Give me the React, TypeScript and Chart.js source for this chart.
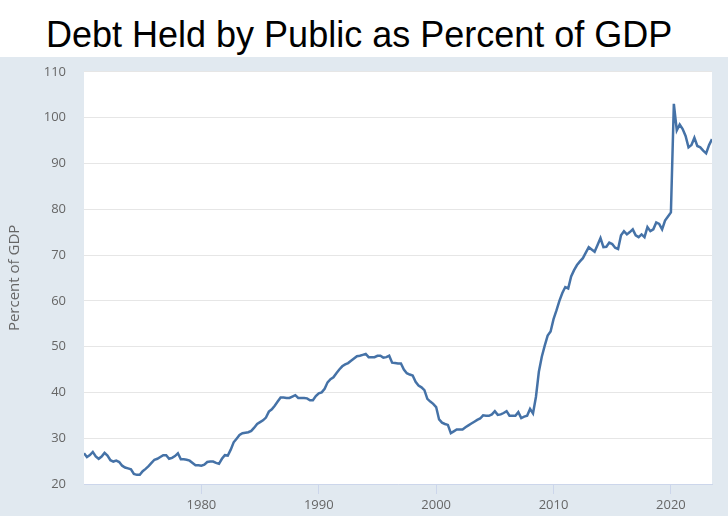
import React, { useEffect, useRef } from "react";
import { Chart, registerables } from "chart.js";

Chart.register(...registerables);

const titleText = "Debt Held by Public as Percent of GDP";
const yAxisTitle = "Percent of GDP";
const startYear = 1970;
const xMin = 1970;
const xMax = 2023.5;
const xTickYears = [1980, 1990, 2000, 2010, 2020];
const yTicks = [20, 30, 40, 50, 60, 70, 80, 90, 100, 110];

// Quarterly values, Q1 1970 onward
const debt1970s = [
  26.7, 25.9, 26.3, 27.0, 26.0, 25.5, 26.0, 26.8, 26.2, 25.2, 24.9, 25.1,
  24.8, 24.0, 23.6, 23.4, 23.2, 22.2, 22.0, 22.0, 22.8, 23.3, 23.9, 24.6,
  25.3, 25.5, 25.9, 26.3, 26.3, 25.5, 25.7, 26.1, 26.7, 25.4, 25.4, 25.3,
  25.1, 24.6, 24.1, 24.1,
];
const debt1980s = [
  24.0, 24.2, 24.8, 24.9, 24.9, 24.6, 24.4, 25.5, 26.3, 26.2, 27.5, 29.1,
  29.9, 30.7, 31.1, 31.2, 31.3, 31.6, 32.3, 33.1, 33.5, 33.9, 34.5, 35.8,
  36.3, 37.1, 38.0, 38.9, 38.9, 38.8, 38.8, 39.1, 39.4, 38.8, 38.8, 38.8,
  38.7, 38.3, 38.3, 39.2,
];
const debt1990s = [
  39.8, 40.0, 40.8, 42.2, 42.9, 43.3, 44.2, 45.0, 45.7, 46.1, 46.4, 46.9,
  47.4, 47.9, 48.0, 48.2, 48.4, 47.7, 47.7, 47.7, 48.0, 48.0, 47.6, 47.7,
  48.0, 46.5, 46.4, 46.3, 46.3, 45.0, 44.2, 43.9, 43.7, 42.3, 41.5, 41.1,
  40.5, 38.6, 38.0, 37.5,
];
const debt2000s = [
  36.8, 34.1, 33.4, 33.1, 32.9, 31.1, 31.5, 31.9, 31.9, 31.9, 32.4, 32.8,
  33.2, 33.6, 34.0, 34.3, 35.0, 34.9, 34.9, 35.2, 35.9, 35.1, 35.2, 35.5,
  35.9, 34.9, 34.9, 34.9, 35.7, 34.4, 34.7, 34.9, 36.4, 35.4, 39.0, 44.5,
  47.8, 50.2, 52.4, 53.3,
];
const debt2010s = [
  56.0, 57.9, 60.0, 61.7, 63.0, 62.7, 65.3, 66.7, 67.8, 68.6, 69.3, 70.5,
  71.7, 71.2, 70.7, 72.2, 73.7, 71.7, 71.8, 72.7, 72.4, 71.6, 71.3, 74.3,
  75.2, 74.5, 75.0, 75.6, 74.3, 73.9, 74.5, 73.9, 76.1, 75.2, 75.6, 77.1,
  76.8, 75.6, 77.5, 78.4,
];
const debt2020s = [
  79.3, 103.0, 97.2, 98.5, 97.5, 96.0, 93.5, 94.0, 95.6, 93.8, 93.5, 92.8,
  92.2, 94.0, 95.3,
];

const plotBg = {
  id: "plotBg",
  beforeDraw(chart: any) {
    const { ctx, chartArea } = chart;
    ctx.save();
    ctx.fillStyle = "#ffffff";
    ctx.fillRect(chartArea.left, chartArea.top, chartArea.right - chartArea.left, chartArea.bottom - chartArea.top);
    ctx.restore();
  },
};

export default function App() {
  const ref = useRef<HTMLCanvasElement>(null);
  useEffect(() => {
    document.body.style.margin = "0";
    const values = [...debt1970s, ...debt1980s, ...debt1990s, ...debt2000s, ...debt2010s, ...debt2020s];
    const points = values.map((v, i) => ({ x: startYear + i * 0.25, y: v }));
    const chart = new Chart(ref.current!, {
      type: "line",
      data: {
        datasets: [
          {
            data: points,
            borderColor: "#4572a7",
            borderWidth: 2.5,
            pointRadius: 0,
            tension: 0,
            fill: false,
          },
        ],
      },
      options: {
        animation: false,
        responsive: false,
        devicePixelRatio: 1,
        layout: { padding: { top: 5, right: 16, left: 0, bottom: 0 } },
        plugins: { legend: { display: false }, tooltip: { enabled: false } },
        scales: {
          x: {
            type: "linear",
            min: xMin,
            max: xMax,
            afterBuildTicks: (scale: any) => {
              scale.ticks = xTickYears.map((v) => ({ value: v }));
            },
            afterFit: (scale: any) => {
              scale.height = 32;
            },
            border: { display: true, color: "#ccd6eb", width: 1 },
            grid: { drawOnChartArea: false, drawTicks: true, tickLength: 10, color: "#ccd6eb" },
            ticks: {
              padding: 3,
              color: "#666666",
              font: { family: "'Open Sans'", size: 13 },
              maxRotation: 0,
              callback: (v: any) => String(v),
            },
          },
          y: {
            min: 20,
            max: 110,
            afterBuildTicks: (scale: any) => {
              scale.ticks = yTicks.map((v) => ({ value: v }));
            },
            afterFit: (scale: any) => {
              scale.width = 84;
            },
            border: { display: false },
            grid: { color: "#e6e6e6", drawTicks: false, lineWidth: 1 },
            ticks: {
              padding: 18,
              color: "#666666",
              font: { family: "'Open Sans'", size: 13 },
            },
            title: {
              display: true,
              text: yAxisTitle,
              color: "#666666",
              font: { family: "'Open Sans'", size: 15 },
              padding: { top: 6, bottom: 0 },
            },
          },
        },
      },
      plugins: [plotBg],
    });
    return () => chart.destroy();
  }, []);

  return (
    <div style={{ position: "relative", width: 728, height: 516, background: "#ffffff", overflow: "hidden" }}>
      <div
        style={{
          position: "absolute",
          left: 46,
          top: 12,
          fontFamily: "'Liberation Sans', Arial, sans-serif",
          fontSize: 36,
          color: "#000000",
          whiteSpace: "nowrap",
          lineHeight: "46px",
        }}
      >
        {titleText}
      </div>
      <div style={{ position: "absolute", left: 0, top: 57, width: 728, height: 459, background: "#e1e9f0" }} />
      <canvas
        ref={ref}
        width={728}
        height={470}
        style={{ display: "block", position: "absolute", left: 0, top: 46 }}
      />
    </div>
  );
}
